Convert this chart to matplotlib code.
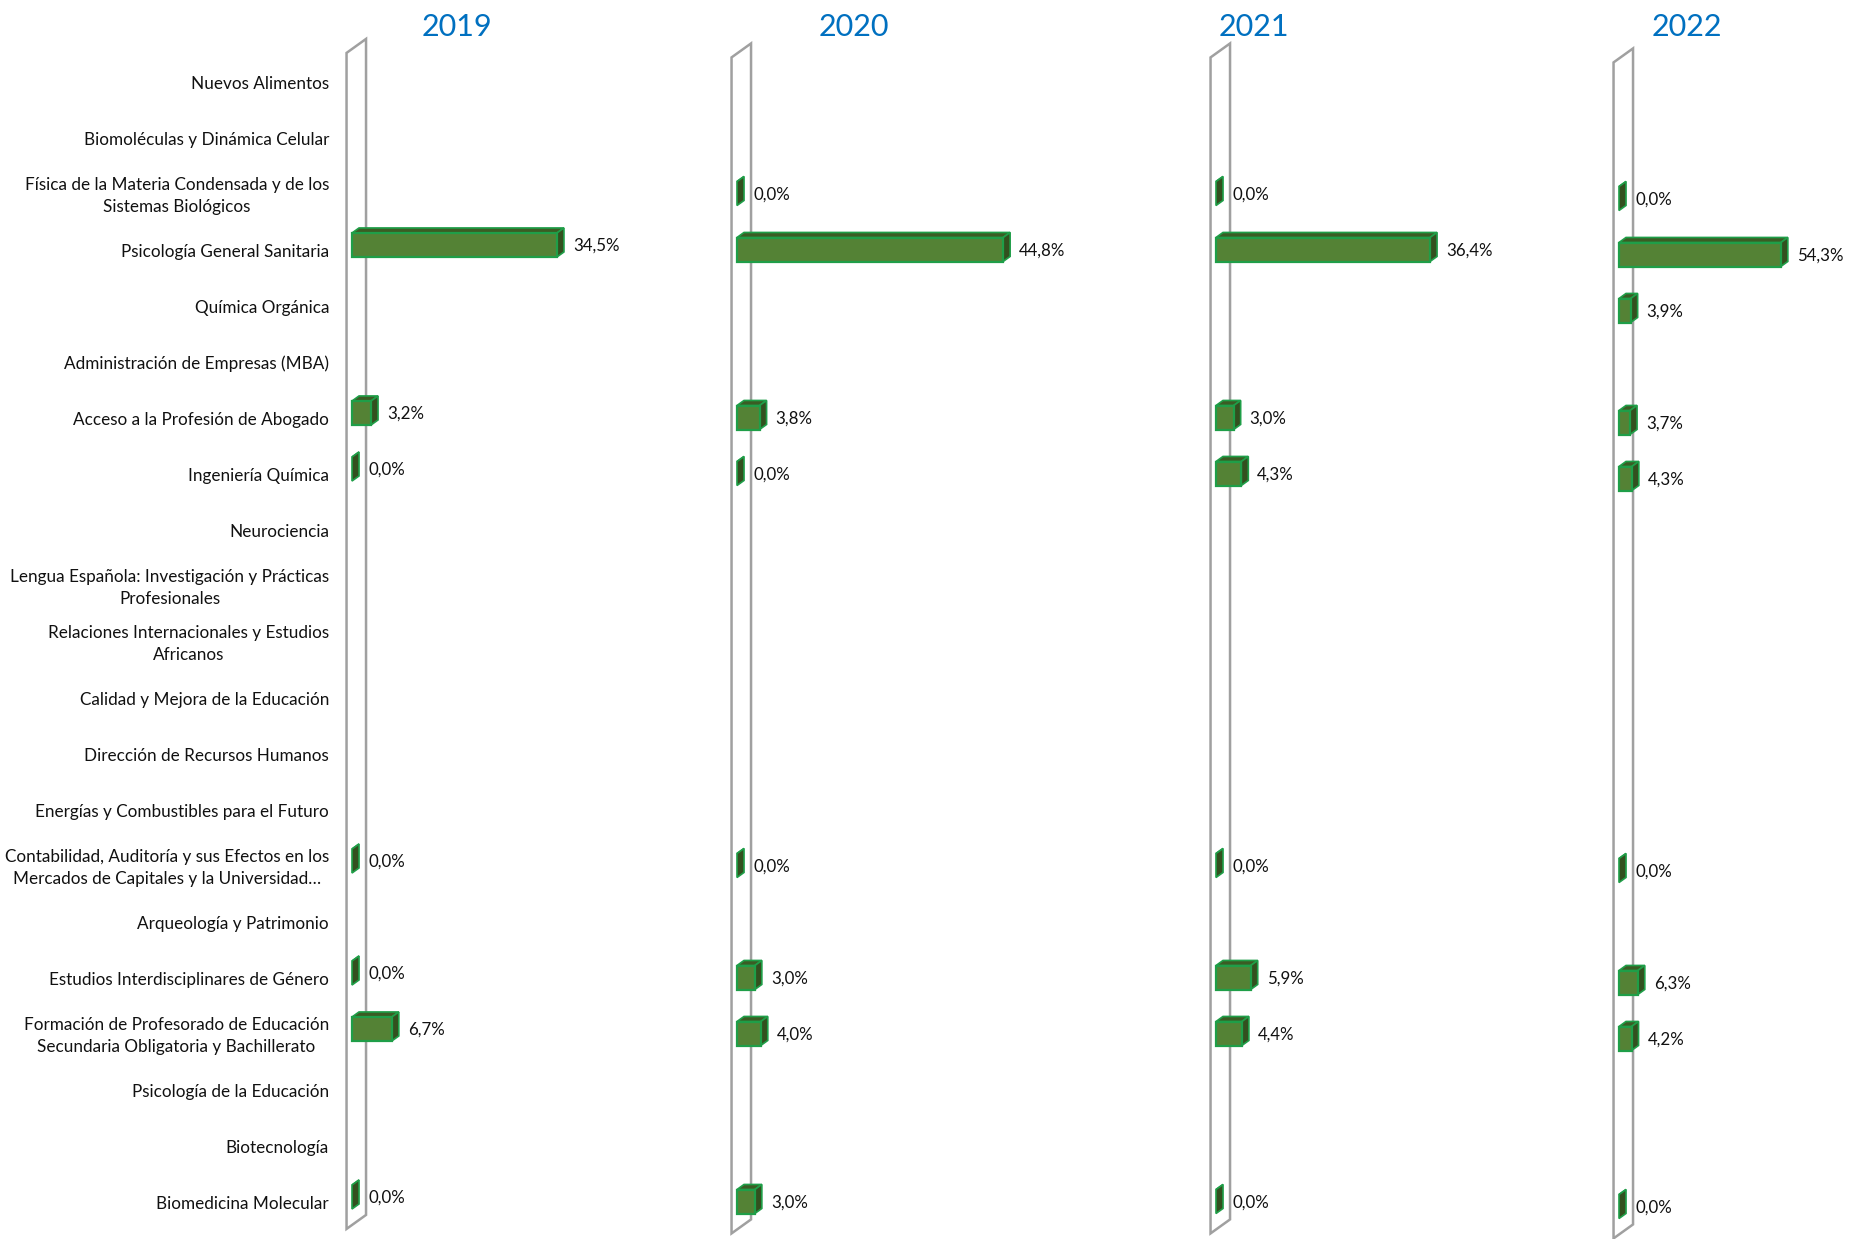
import numpy as np
import matplotlib.pyplot as plt
from matplotlib.patches import Polygon

plt.rcParams['font.family'] = ['Lato', 'DejaVu Sans']

categories = [
    'Nuevos Alimentos',
    'Biomoléculas y Dinámica Celular',
    'Física de la Materia Condensada y de los\nSistemas Biológicos',
    'Psicología General Sanitaria',
    'Química Orgánica',
    'Administración de Empresas (MBA)',
    'Acceso a la Profesión de Abogado',
    'Ingeniería Química',
    'Neurociencia',
    'Lengua Española: Investigación y Prácticas\nProfesionales',
    'Relaciones Internacionales y Estudios\nAfricanos',
    'Calidad y Mejora de la Educación',
    'Dirección de Recursos Humanos',
    'Energías y Combustibles para el Futuro',
    'Contabilidad, Auditoría y sus Efectos en los\nMercados de Capitales y la Universidad…',
    'Arqueología y Patrimonio',
    'Estudios Interdisciplinares de Género',
    'Formación de Profesorado de Educación\nSecundaria Obligatoria y Bachillerato',
    'Psicología de la Educación',
    'Biotecnología',
    'Biomedicina Molecular',
]

years = ['2019', '2020', '2021', '2022']
nan = np.nan
v2019 = [nan, nan, nan, 34.5, nan, nan, 3.2, 0.0, nan, nan, nan,
         nan, nan, nan, 0.0, nan, 0.0, 6.7, nan, nan, 0.0]
v2020 = [nan, nan, 0.0, 44.8, nan, nan, 3.8, 0.0, nan, nan, nan,
         nan, nan, nan, 0.0, nan, 3.0, 4.0, nan, nan, 3.0]
v2021 = [nan, nan, 0.0, 36.4, nan, nan, 3.0, 4.3, nan, nan, nan,
         nan, nan, nan, 0.0, nan, 5.9, 4.4, nan, nan, 0.0]
v2022 = [nan, nan, 0.0, 54.3, 3.9, nan, 3.7, 4.3, nan, nan, nan,
         nan, nan, nan, 0.0, nan, 6.3, 4.2, nan, nan, 0.0]
values = [v2019, v2020, v2021, v2022]

# layout in pixels: zero position of bars, px per %, row-0 centre, title centre
panel_x0 = [352, 737, 1216, 1619]
panel_scale = [5.94, 5.94, 5.88, 2.98]
panel_row0 = [77, 81.5, 81.5, 86.5]
title_x = [457, 854, 1254, 1687]

W, H = 1864, 1239
ROW = 56.0            # px between rows
BAR_H = 24.0          # px, front face height
DEPTH = (19.5, 14.0)  # px, full wall depth (right, up)
D0, D1 = 0.28, 0.64   # bar depth span as wall-depth fraction

FRONT = '#548235'
TOP = '#3b5c24'
SIDE = '#33501f'
EDGE = '#1f9e48'
WALL = '#a0a0a0'

fig = plt.figure(figsize=(W / 100, H / 100), dpi=100)
n = len(categories)

# category labels
ax_lab = fig.add_axes([336 / W, 0, 1 / W, 1])
ax_lab.set_ylim((H - 84) / ROW, -84 / ROW)
ax_lab.set_yticks(range(n))
ax_lab.set_yticklabels(categories, fontsize=12.3, color='#111111', linespacing=1.45)
for t in ax_lab.get_yticklabels():
    t.set_multialignment('center')
    t.set_verticalalignment('center')
ax_lab.tick_params(axis='y', length=0, pad=5)
ax_lab.set_xticks([])
for s in ax_lab.spines.values():
    s.set_visible(False)

for year, vals, x0, sc, r0, tx in zip(years, values, panel_x0, panel_scale,
                                      panel_row0, title_x):
    left = x0 - 30
    right = min(left + 330, W)
    ax = fig.add_axes([left / W, 0, (right - left) / W, 1])
    ax.set_xlim((left - x0) / sc, (right - x0) / sc)
    ax.set_ylim((H - r0) / ROW, -r0 / ROW)
    ax.axis('off')

    dx_full = DEPTH[0] / sc
    dy_full = -DEPTH[1] / ROW
    h = BAR_H / ROW / 2

    # side wall
    wx = -D0 * dx_full
    wy = -D0 * dy_full
    wall = Polygon([(wx, -0.5 + wy), (wx, n - 0.5 + wy),
                    (wx + dx_full, n - 0.5 + wy + dy_full),
                    (wx + dx_full, -0.5 + wy + dy_full)],
                   closed=True, fill=False, edgecolor=WALL, lw=1.8, zorder=1)
    ax.add_patch(wall)

    ddx = (D1 - D0) * dx_full
    ddy = (D1 - D0) * dy_full
    for r, v in enumerate(vals):
        if np.isnan(v):
            continue
        yt, yb = r - h, r + h
        top = Polygon([(0, yt), (v, yt), (v + ddx, yt + ddy), (ddx, yt + ddy)],
                      closed=True, facecolor=TOP, edgecolor=EDGE, lw=1.2, zorder=3)
        side = Polygon([(v, yt), (v, yb), (v + ddx, yb + ddy), (v + ddx, yt + ddy)],
                       closed=True, facecolor=SIDE, edgecolor=EDGE, lw=1.2, zorder=3)
        ax.add_patch(top)
        ax.add_patch(side)
        if v > 0:
            ax.add_patch(Polygon([(0, yt), (v, yt), (v, yb), (0, yb)], closed=True,
                                 facecolor=FRONT, edgecolor=EDGE, lw=1.6, zorder=4))
        label = f'{v:.1f}%'.replace('.', ',')
        ax.text(v + ddx + 9 / sc, r + 1 / ROW, label, ha='left', va='center',
                fontsize=12.2, color='#111111')

    fig.text(tx / W, 1 - 26.5 / H, year, ha='center', va='center',
             fontsize=22, color='#0070C0')

fig.savefig('out.png', dpi=100)
